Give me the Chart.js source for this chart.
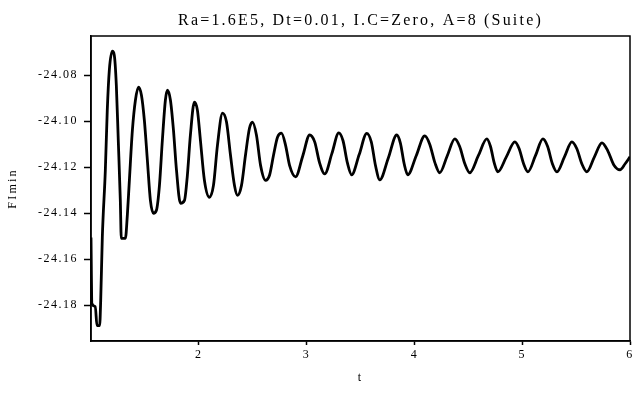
<!DOCTYPE html>
<html>
<head>
<meta charset="utf-8">
<script src="https://cdn.jsdelivr.net/npm/chart.js@4/dist/chart.umd.min.js"></script>
<style>
  html, body { margin: 0; padding: 0; background: #fff; }
  #wrap { width: 633px; height: 393px; }
</style>
</head>
<body>
<div id="wrap"><canvas id="mainChart"></canvas></div>
<script>
const chartTitle = 'Ra=1.6E5, Dt=0.01, I.C=Zero, A=8 (Suite)';
const xTitle = 't';
const yTitle = 'FImin';
const xTicks = [2, 3, 4, 5, 6];
const yTicks = [-24.18, -24.16, -24.14, -24.12, -24.10, -24.08];

// t values
const tValues = [
    1.000, 1.008, 1.040, 1.055, 1.080, 1.090, 1.105, 1.133, 1.151, 1.170,
    1.198, 1.216, 1.235, 1.253, 1.272, 1.281, 1.319, 1.337, 1.356, 1.384,
    1.412, 1.440, 1.468, 1.495, 1.523, 1.551, 1.579, 1.607, 1.635, 1.662,
    1.690, 1.709, 1.737, 1.765, 1.793, 1.830, 1.867, 1.894, 1.922, 1.959,
    1.987, 2.015, 2.052, 2.098, 2.136, 2.173, 2.220, 2.257, 2.294, 2.331,
    2.359, 2.396, 2.433, 2.470, 2.498, 2.535, 2.573, 2.619, 2.656, 2.693,
    2.730, 2.767, 2.805, 2.842, 2.898, 2.965, 3.028, 3.075, 3.120, 3.168,
    3.235, 3.298, 3.338, 3.378, 3.418, 3.488, 3.558, 3.600, 3.640, 3.679,
    3.758, 3.836, 3.870, 3.905, 3.938, 4.017, 4.096, 4.142, 4.190, 4.235,
    4.305, 4.375, 4.420, 4.468, 4.514, 4.593, 4.672, 4.706, 4.740, 4.774,
    4.853, 4.932, 4.972, 5.013, 5.053, 5.123, 5.192, 5.236, 5.280, 5.322,
    5.392, 5.461, 5.507, 5.553, 5.600, 5.670, 5.740, 5.795, 5.850, 5.907,
    5.955, 6.000
];

// FImin values
const flminValues = [
    -24.1505, -24.1792, -24.1805, -24.1888, -24.1888, -24.1779, -24.1505, -24.1213, -24.0952, -24.0778,
    -24.0696, -24.0713, -24.0844, -24.1083, -24.1344, -24.1509, -24.1509, -24.1409, -24.1257, -24.1039,
    -24.0909, -24.0852, -24.0887, -24.0996, -24.1170, -24.1344, -24.1400, -24.1387, -24.1279, -24.1083,
    -24.0909, -24.0865, -24.0909, -24.1039, -24.1213, -24.1357, -24.1344, -24.1235, -24.1061, -24.0917,
    -24.0952, -24.1083, -24.1257, -24.1331, -24.1279, -24.1105, -24.0965, -24.1004, -24.1148, -24.1279,
    -24.1322, -24.1279, -24.1148, -24.1031, -24.1004, -24.1061, -24.1192, -24.1257, -24.1235, -24.1148,
    -24.1070, -24.1052, -24.1105, -24.1192, -24.1242, -24.1150, -24.1060, -24.1090, -24.1180, -24.1229,
    -24.1140, -24.1051, -24.1085, -24.1180, -24.1233, -24.1145, -24.1053, -24.1090, -24.1195, -24.1255,
    -24.1160, -24.1060, -24.1095, -24.1185, -24.1233, -24.1150, -24.1064, -24.1100, -24.1180, -24.1224,
    -24.1150, -24.1077, -24.1110, -24.1185, -24.1224, -24.1150, -24.1077, -24.1110, -24.1180, -24.1220,
    -24.1155, -24.1090, -24.1120, -24.1185, -24.1220, -24.1150, -24.1077, -24.1110, -24.1185, -24.1220,
    -24.1155, -24.1090, -24.1120, -24.1185, -24.1220, -24.1155, -24.1094, -24.1130, -24.1190, -24.1211,
    -24.1185, -24.1155
];

const serif = '"Liberation Serif", "Times New Roman", serif';

// wide letter spacing like the original: titles first, tick labels after the line
const spacingPlugin = {
    id: 'spacing',
    beforeDraw(chart) {
        chart.ctx.letterSpacing = '2.2px';
    },
    afterDatasetsDraw(chart) {
        chart.ctx.letterSpacing = '1.5px';
    }
};

// closed frame round the plot area
const framePlugin = {
    id: 'frame',
    afterDatasetsDraw(chart) {
        const { ctx, chartArea: a } = chart;
        ctx.save();
        ctx.strokeStyle = '#000';
        ctx.lineWidth = 1.5;
        ctx.strokeRect(a.left, a.top, a.right - a.left, a.bottom - a.top);
        ctx.restore();
    }
};

const mainCtx = document.getElementById('mainChart').getContext('2d');

new Chart(mainCtx, {
    type: 'line',
    data: {
        datasets: [{
            data: tValues.map((t, i) => ({ x: t, y: flminValues[i] })),
            borderColor: '#000',
            borderWidth: 2.8,
            pointRadius: 0,
            fill: false,
            cubicInterpolationMode: 'monotone'
        }]
    },
    options: {
        responsive: true,
        maintainAspectRatio: false,
        animation: false,
        layout: { padding: { left: 0, right: 3, top: 0, bottom: 0 } },
        plugins: {
            legend: { display: false },
            tooltip: { enabled: false },
            title: {
                display: true,
                fullSize: false,
                text: chartTitle,
                color: '#000',
                font: { family: serif, size: 16, weight: 'normal' },
                padding: { top: 11, bottom: 5.8 }
            }
        },
        scales: {
            x: {
                type: 'linear',
                min: 1,
                max: 6,
                afterBuildTicks: s => { s.ticks = xTicks.map(v => ({ value: v })); },
                afterFit: s => { s.height = 52; s.paddingLeft = 0; s.paddingRight = 0; },
                ticks: {
                    color: '#000',
                    font: { family: serif, size: 12 },
                    padding: 3,
                    maxRotation: 0,
                    z: 1
                },
                grid: { drawOnChartArea: false, drawTicks: true, tickLength: 4, color: '#000', tickWidth: 1.5 },
                border: { color: '#000', width: 1.5 },
                title: {
                    display: true,
                    text: xTitle,
                    color: '#000',
                    font: { family: serif, size: 12 },
                    padding: { top: 0, bottom: 8 }
                }
            },
            y: {
                min: -24.1955,
                max: -24.063,
                afterBuildTicks: s => { s.ticks = yTicks.map(v => ({ value: v })); },
                afterFit: s => { s.width = 91; s.paddingTop = 0; s.paddingBottom = 0; },
                ticks: {
                    color: '#000',
                    font: { family: serif, size: 12 },
                    padding: 6,
                    z: 1,
                    callback: v => v.toFixed(2)
                },
                grid: { drawOnChartArea: false, drawTicks: true, tickLength: 7, color: '#000', tickWidth: 1.5 },
                border: { color: '#000', width: 1.5 },
                title: {
                    display: true,
                    text: yTitle,
                    color: '#000',
                    font: { family: serif, size: 12 },
                    padding: { top: 6, bottom: 0 }
                }
            }
        }
    },
    plugins: [spacingPlugin, framePlugin]
});
</script>
</body>
</html>
